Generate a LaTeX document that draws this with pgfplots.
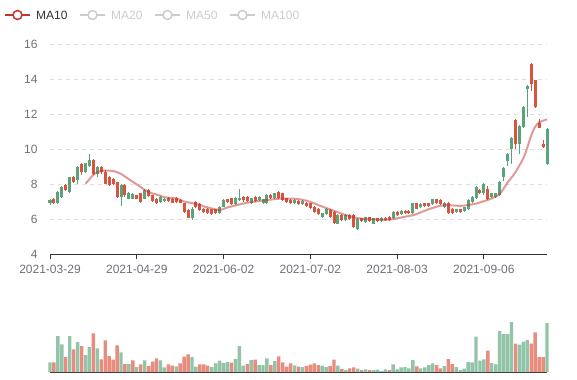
\documentclass[border=0pt]{standalone}
\usepackage{pgfplots}
\pgfplotsset{compat=1.18}
\usepackage{pgfplotstable}
\usepackage{fontspec}
\setmainfont{Liberation Sans}
\definecolor{upc}{HTML}{5BA37A}
\definecolor{dnc}{HTML}{D9543F}
\definecolor{vupc}{HTML}{93C4A9}
\definecolor{vdnc}{HTML}{E88C7D}
\definecolor{mac}{HTML}{C23531}
\definecolor{labc}{HTML}{6E7079}
\definecolor{gridc}{HTML}{E0E0E0}
\definecolor{axc}{HTML}{333333}
\definecolor{offc}{HTML}{CCCCCC}

\pgfplotstableread{
i o h l c v vd
0 6.91 7.19 6.81 7.10 9.7 1
1 7.15 7.22 6.87 6.91 9.7 0
2 6.91 7.62 6.87 7.57 36 1
3 7.29 7.92 7.25 7.86 27.7 1
4 7.99 8.05 7.62 7.67 15 0
5 7.57 8.43 7.50 8.40 36 1
6 8.43 8.50 8.10 8.15 22.7 0
7 8.24 9.05 8.05 9.01 30 1
8 9.16 9.20 8.55 8.72 26 0
9 8.72 9.25 8.65 9.20 17 1
10 9.04 9.73 9.00 9.39 25 1
11 9.39 9.45 8.55 8.62 38.7 0
12 8.62 9.05 8.45 9.01 23.7 1
13 9.01 9.05 8.60 8.72 12.7 0
14 8.72 8.80 8.00 8.05 31.7 0
15 8.43 8.50 7.90 7.96 16 0
16 8.30 8.35 7.95 8.05 12.3 0
17 8.11 8.15 7.25 7.29 26.7 0
18 7.29 8.00 6.75 7.96 19.7 1
19 7.96 8.00 7.30 7.38 8 0
20 7.19 7.55 7.15 7.48 8 1
21 7.19 7.50 7.15 7.44 11.7 0
22 7.38 7.42 7.15 7.19 5 1
23 7.48 7.52 6.96 7.00 7.7 0
24 7.19 7.72 7.15 7.67 11.7 1
25 7.67 7.72 7.30 7.34 6 0
26 7.38 7.42 7.00 7.04 10.3 0
27 7.19 7.24 6.87 6.91 13.7 0
28 7.00 7.33 6.96 7.29 11.7 1
29 7.04 7.24 7.00 7.19 4.7 1
30 7.25 7.30 7.02 7.06 7.7 0
31 7.19 7.24 6.92 6.96 6.3 0
32 7.25 7.30 6.96 7.00 5.7 1
33 7.10 7.15 6.92 6.96 8.7 0
34 6.91 6.96 6.38 6.43 15.3 0
35 6.52 6.57 6.05 6.10 17.7 0
36 6.10 6.71 5.95 6.62 15 1
37 7.00 7.05 6.66 6.71 5.3 1
38 6.87 6.93 6.47 6.52 7.7 0
39 6.62 6.67 6.38 6.43 7.7 0
40 6.58 6.63 6.32 6.37 6.3 0
41 6.57 6.62 6.25 6.30 5 1
42 6.57 6.62 6.33 6.38 8.7 1
43 6.38 6.76 6.33 6.72 11.3 1
44 6.72 7.15 6.68 7.10 9 1
45 7.14 7.19 6.96 7.01 10 1
46 7.20 7.25 6.82 6.87 9.3 0
47 6.87 7.30 6.82 7.25 13 1
48 7.10 7.71 7.05 7.20 26 1
49 7.29 7.33 7.01 7.10 6.3 1
50 7.29 7.34 7.01 7.06 8 0
51 6.91 7.25 6.86 7.20 12 1
52 7.29 7.34 7.01 7.06 12.3 0
53 7.10 7.34 7.05 7.29 7 1
54 6.95 7.19 6.90 7.14 7 1
55 6.95 7.44 6.90 7.39 13.7 1
56 7.41 7.46 7.17 7.22 7 0
57 7.20 7.53 7.15 7.48 11 1
58 7.58 7.64 7.15 7.20 15.7 0
59 7.48 7.53 7.05 7.10 9.7 0
60 7.20 7.25 6.96 7.01 5.3 0
61 7.10 7.15 6.86 6.91 8.7 0
62 6.95 7.15 6.90 7.10 6.7 1
63 7.04 7.09 6.80 6.85 5.3 0
64 6.87 7.11 6.82 7.06 5 1
65 6.95 7.00 6.71 6.76 6 0
66 6.91 6.96 6.61 6.66 7.3 0
67 6.72 6.77 6.38 6.43 8.7 0
68 6.62 6.67 6.23 6.28 7 0
69 6.15 6.39 6.10 6.34 6.3 1
70 6.30 6.67 6.25 6.62 5 1
71 6.53 6.58 6.06 6.11 6 0
72 6.43 6.48 5.75 5.80 12.3 0
73 5.76 6.29 5.71 6.24 6.3 1
74 6.24 6.29 5.91 5.96 3 0
75 5.96 6.29 5.91 6.24 2 1
76 6.24 6.29 5.95 6.00 3.7 0
77 6.24 6.29 5.52 5.57 4.7 0
78 5.42 6.05 5.37 6.00 3.3 1
79 6.05 6.10 5.85 5.90 2 0
80 5.86 6.16 5.81 6.11 2.7 1
81 6.11 6.16 5.85 5.90 2 0
82 5.76 6.10 5.71 6.05 2 1
83 6.05 6.10 5.85 5.90 2.3 1
84 5.90 6.14 5.85 6.09 1 1
85 6.09 6.14 5.91 5.96 2.7 1
86 6.15 6.20 5.91 5.96 2 0
87 6.05 6.48 6.00 6.43 7.7 1
88 6.41 6.46 6.19 6.24 2.7 1
89 6.30 6.54 6.25 6.49 4.7 1
90 6.49 6.54 6.30 6.34 5 1
91 6.49 6.54 6.33 6.38 3.7 1
92 6.38 6.96 6.33 6.91 12 1
93 6.91 6.96 6.57 6.62 5.7 0
94 6.72 6.92 6.67 6.87 3.7 1
95 6.91 6.96 6.71 6.76 4.7 1
96 6.91 6.96 6.71 6.76 7 1
97 6.87 7.19 6.82 7.14 8.7 1
98 7.14 7.19 6.90 6.95 7 0
99 7.10 7.15 6.82 6.87 3.7 0
100 6.72 7.00 6.67 6.95 6 1
101 6.95 7.00 6.29 6.34 13 0
102 6.62 6.67 6.33 6.38 8 0
103 6.40 6.62 6.35 6.57 5 1
104 6.57 6.62 6.38 6.43 2 1
105 6.49 6.73 6.44 6.68 3.3 1
106 6.57 7.15 6.52 7.10 10 1
107 7.01 7.34 6.96 7.29 9.7 1
108 7.20 7.88 7.15 7.83 35.3 1
109 7.68 7.73 7.47 7.52 11.3 1
110 7.48 8.06 7.39 8.00 12.7 1
111 7.71 7.90 7.10 7.14 21.3 0
112 7.29 7.53 7.24 7.48 9 1
113 7.29 7.53 7.24 7.48 7.7 1
114 7.39 8.20 7.34 8.15 41 1
115 8.40 9.00 8.20 8.93 38 1
116 9.32 9.80 9.05 9.72 38 1
117 10.04 10.72 9.14 10.67 50 1
118 11.67 11.72 10.04 10.33 28.3 0
119 10.33 11.38 9.76 11.34 27.3 1
120 11.30 12.50 11.25 12.45 30.3 1
121 13.48 13.70 11.86 13.64 32 1
122 14.90 14.97 13.35 13.73 28.3 0
123 13.96 14.00 12.35 12.43 39.7 0
124 11.50 11.72 11.20 11.25 15 0
125 10.29 10.54 10.10 10.14 15 0
126 9.14 11.20 9.10 11.15 49 1
}\kdata

\pgfplotstableread{
i ma
9 8.04
10 8.30
11 8.55
12 8.70
13 8.77
14 8.79
15 8.79
16 8.77
17 8.70
18 8.60
19 8.45
20 8.30
21 8.15
22 8.00
23 7.85
24 7.68
25 7.58
26 7.48
27 7.42
28 7.35
29 7.27
30 7.24
31 7.22
32 7.19
33 7.12
34 7.02
35 6.97
36 6.93
37 6.88
38 6.84
39 6.74
40 6.68
41 6.62
42 6.57
43 6.53
44 6.60
45 6.68
46 6.74
47 6.80
48 6.85
50 6.95
52 7.02
54 7.08
56 7.13
58 7.18
60 7.19
62 7.18
64 7.12
66 7.00
68 6.82
70 6.65
72 6.49
74 6.32
76 6.18
78 6.07
80 6.02
82 6.00
84 5.98
86 5.98
88 6.06
90 6.15
92 6.24
94 6.40
96 6.58
98 6.72
100 6.82
102 6.80
104 6.77
106 6.82
108 6.90
110 7.04
112 7.20
114 7.45
116 8.10
118 8.70
120 9.50
121 10.10
122 10.80
123 11.30
124 11.55
125 11.65
126 11.72
}\madata

\begin{document}
\begin{tikzpicture}
\useasboundingbox (0,0) rectangle (577bp,380bp);
% legend
\tikzset{lgfont/.style={font=\fontsize{12bp}{14bp}\selectfont, inner sep=0pt, anchor=west}}
\draw[mac, line width=2bp] (5bp,365bp) -- (30bp,365bp);
\draw[mac, line width=1.5bp, fill=white] (17.5bp,365bp) circle (4.5bp);
\node[lgfont, text=axc] at (36bp,365bp) {MA10};
\draw[offc, line width=2bp] (80bp,365bp) -- (105bp,365bp);
\draw[offc, line width=1.5bp, fill=white] (92.5bp,365bp) circle (4.5bp);
\node[lgfont, text=offc] at (111bp,365bp) {MA20};
\draw[offc, line width=2bp] (155bp,365bp) -- (180bp,365bp);
\draw[offc, line width=1.5bp, fill=white] (167.5bp,365bp) circle (4.5bp);
\node[lgfont, text=offc] at (186bp,365bp) {MA50};
\draw[offc, line width=2bp] (230bp,365bp) -- (255bp,365bp);
\draw[offc, line width=1.5bp, fill=white] (242.5bp,365bp) circle (4.5bp);
\node[lgfont, text=offc] at (261bp,365bp) {MA100};

\begin{axis}[
  at={(50bp,125.7bp)}, anchor=south west, scale only axis,
  width=497bp, height=209.7bp,
  xmin=0, xmax=126, ymin=4, ymax=16,
  clip=false,
  axis x line*=bottom, axis y line*=left,
  x axis line style={draw=axc, line width=0.8bp, -},
  y axis line style={draw=none},
  xtick={0,22,44,66,88,110},
  xticklabels={2021-03-29,2021-04-29,2021-06-02,2021-07-02,2021-08-03,2021-09-06},
  ytick={4,6,...,16},
  ymajorgrids,
  grid style={gridc, dash pattern=on 4bp off 4bp, line width=0.8bp},
  tick align=outside, major tick length=5bp,
  xtick style={draw=axc, line width=0.8bp},
  ytick style={draw=none},
  ticklabel style={font=\fontsize{12bp}{14bp}\selectfont, text=labc},
  /pgf/number format/assume math mode=true,
  xticklabel style={yshift=-2bp},
  yticklabel style={xshift=-4bp},
]
% wicks up
\addplot[draw=none, mark=none, forget plot,
  restrict expr to domain={\thisrow{c}-\thisrow{o}}{0:100},
  error bars/.cd, y dir=both, y explicit, error mark=none,
  error bar style={draw=upc, line width=1bp, solid}]
  table[x=i, y expr={(\thisrow{h}+\thisrow{l})/2}, y error expr={(\thisrow{h}-\thisrow{l})/2}] {\kdata};
% wicks down
\addplot[draw=none, mark=none, forget plot,
  restrict expr to domain={\thisrow{c}-\thisrow{o}}{-100:-0.0001},
  error bars/.cd, y dir=both, y explicit, error mark=none,
  error bar style={draw=dnc, line width=1bp, solid}]
  table[x=i, y expr={(\thisrow{h}+\thisrow{l})/2}, y error expr={(\thisrow{h}-\thisrow{l})/2}] {\kdata};
% bodies up
\addplot[draw=none, mark=none, forget plot,
  restrict expr to domain={\thisrow{c}-\thisrow{o}}{0:100},
  error bars/.cd, y dir=both, y explicit, error mark=none,
  error bar style={draw=upc, line width=3bp, solid}]
  table[x=i, y expr={(\thisrow{o}+\thisrow{c})/2}, y error expr={max(abs(\thisrow{c}-\thisrow{o})/2,0.03)}] {\kdata};
% bodies down
\addplot[draw=none, mark=none, forget plot,
  restrict expr to domain={\thisrow{c}-\thisrow{o}}{-100:-0.0001},
  error bars/.cd, y dir=both, y explicit, error mark=none,
  error bar style={draw=dnc, line width=3bp, solid}]
  table[x=i, y expr={(\thisrow{o}+\thisrow{c})/2}, y error expr={max(abs(\thisrow{c}-\thisrow{o})/2,0.03)}] {\kdata};
% MA10
\addplot[mac, opacity=0.5, line width=2bp, smooth, mark=none] table[x=i, y=ma] {\madata};
\end{axis}

\begin{axis}[
  at={(50bp,8bp)}, anchor=south west, scale only axis,
  width=497bp, height=60bp,
  xmin=0, xmax=126, ymin=0, ymax=60,
  clip=false,
  axis x line*=bottom, axis y line=none,
  x axis line style={draw=axc, line width=1bp, -},
  xtick=\empty, ytick=\empty,
]
\addplot[ybar, bar width=3.4bp, bar shift=0pt, fill=vupc, draw=none,
  restrict expr to domain={\thisrow{vd}}{0.5:1.5}] table[x=i, y=v] {\kdata};
\addplot[ybar, bar width=3.4bp, bar shift=0pt, fill=vdnc, draw=none,
  restrict expr to domain={\thisrow{vd}}{-0.5:0.5}] table[x=i, y=v] {\kdata};
\end{axis}
\end{tikzpicture}
\end{document}
